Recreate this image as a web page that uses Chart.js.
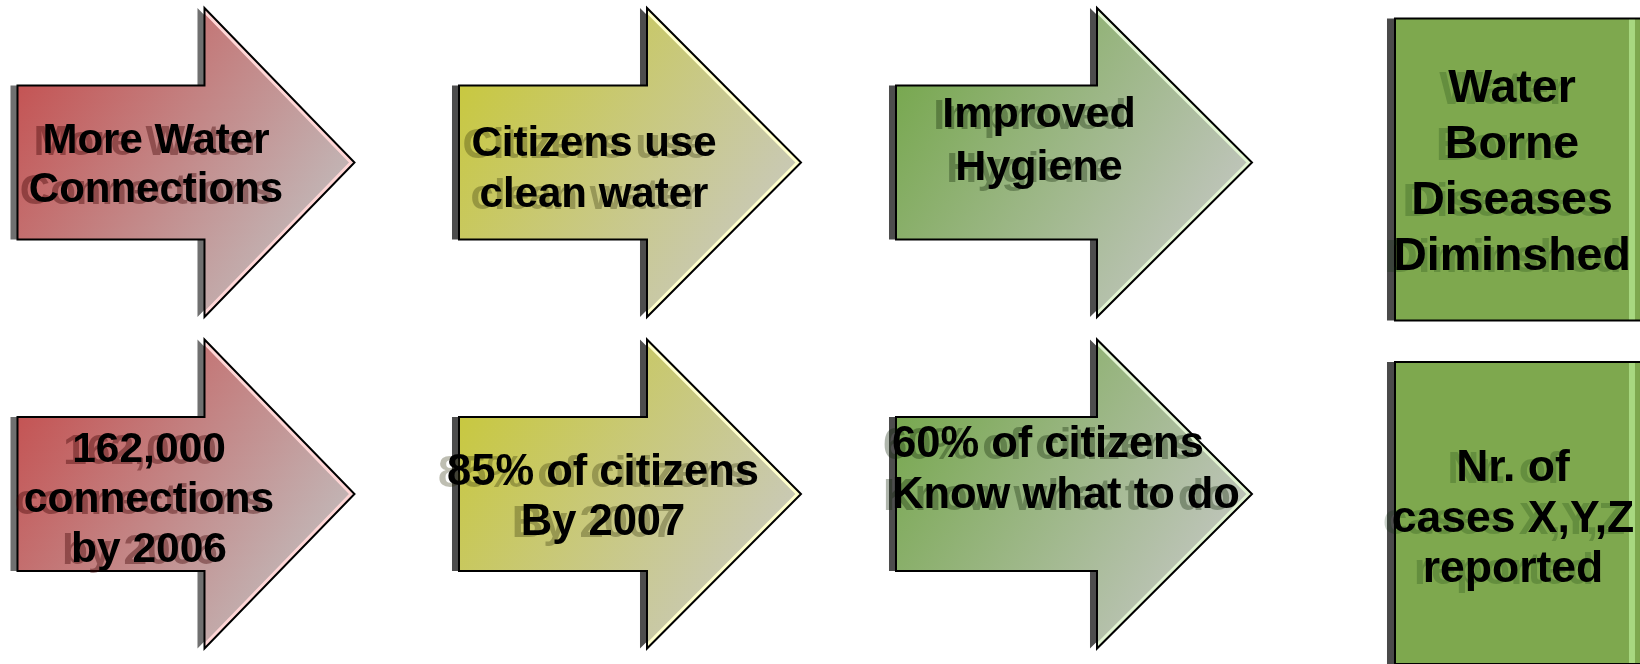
<!DOCTYPE html>
<html>
<head>
<meta charset="utf-8" />
<title>Results chain</title>
<script src="https://cdn.jsdelivr.net/npm/chart.js"></script>
<style>
  html, body { margin: 0; padding: 0; background: #fff; overflow: hidden; }
  #chart { display: block; }
</style>
</head>
<body>
<canvas id="chart" width="1640" height="664"></canvas>
<script>
  // steps of the chain (x) and the two rows (y)
  const steps = ["Output", "Outcome", "Intermediate outcome", "Impact"];
  const rows = ["Result", "Indicator"];

  const resultLabels = [
    ["More Water", "Connections"],
    ["Citizens use", "clean water"],
    ["Improved", "Hygiene"],
    ["Water", "Borne", "Diseases", "Diminshed"],
  ];
  const indicatorLabels = [
    ["162,000", "connections", "by 2006"],
    ["85% of citizens", "By 2007"],
    ["60% of citizens", "Know what to do"],
    ["Nr. of", "cases X,Y,Z", "reported"],
  ];

  // looks, one entry per step
  const stepStyle = [
    { base: "#c45454", end: "#c2bcbc", light: "#ffd6d6", shadow: "#707070", ghost: "rgba(60,0,0,0.38)", width: 337, head: 150 },
    { base: "#c8c840", end: "#c9c9bd", light: "#ffffcc", shadow: "#4d4d4d", ghost: "rgba(40,40,0,0.30)", width: 342, head: 154 },
    { base: "#78a850", end: "#c2c6bf", light: "#e2f4d2", shadow: "#4d4d4d", ghost: "rgba(10,30,0,0.32)", width: 356, head: 155 },
    { base: "#7ea84e", end: "#7ea84e", light: "#a8d880", shadow: "#4a4a4a", ghost: "rgba(0,40,0,0.20)", width: 246, head: 0 },
  ];
  // text placement per row / step (offsets from the shape centre)
  const textLayout = [
    [
      { dx: -30, dy: 0, gap: 49, size: 42 },
      { dx: -36, dy: 4, gap: 51, size: 42 },
      { dx: -35, dy: -24, gap: 53, size: 43 },
      { dx: -6, dy: 0, gap: 56, size: 46.5 },
    ],
    [
      { dx: -37, dy: 3, gap: 50, size: 42.5 },
      { dx: -27, dy: 0, gap: 50, size: 43.5 },
      { dx: -182, dy: -27, gap: 51, size: 43.5, align: "left" },
      { dx: -5, dy: 3, gap: 50.5, size: 44.5 },
    ],
  ];
  const boxShift = [7, 19];
  const FONT = '"Liberation Sans", Arial, sans-serif';

  function drawLines(ctx, lines, x, y, t, ghost) {
    const n = lines.length;
    ctx.font = "bold " + t.size + "px " + FONT;
    ctx.textAlign = t.align || "center";
    ctx.textBaseline = "alphabetic";
    const first = y + t.dy - (n - 1) * t.gap / 2 + 0.358 * t.size;
    ctx.fillStyle = ghost;
    lines.forEach((s, k) => ctx.fillText(s, x + t.dx - 9, first + k * t.gap + 2));
    ctx.fillStyle = "#000";
    lines.forEach((s, k) => ctx.fillText(s, x + t.dx, first + k * t.gap));
  }

  function arrowPath(ctx, L, H, T, cy, bh, hh) {
    ctx.beginPath();
    ctx.moveTo(L, cy - bh);
    ctx.lineTo(H, cy - bh);
    ctx.lineTo(H, cy - hh);
    ctx.lineTo(T, cy);
    ctx.lineTo(H, cy + hh);
    ctx.lineTo(H, cy + bh);
    ctx.lineTo(L, cy + bh);
    ctx.closePath();
  }

  function drawArrow(ctx, cx, cy, st) {
    const bh = 77, hh = 154.5;
    const L = cx - st.width / 2, T = cx + st.width / 2, H = T - st.head;
    // shadow
    arrowPath(ctx, L - 7, H - 7, T - 7, cy, bh, hh);
    ctx.fillStyle = st.shadow;
    ctx.fill();
    // body
    arrowPath(ctx, L, H, T, cy, bh, hh);
    const g = ctx.createLinearGradient(L, cy - bh, T, cy + hh);
    g.addColorStop(0, st.base);
    g.addColorStop(0.85, st.end);
    g.addColorStop(1, st.end);
    ctx.fillStyle = g;
    ctx.fill();
    // light edge on the head
    ctx.save();
    ctx.clip();
    ctx.beginPath();
    ctx.moveTo(H, cy - hh);
    ctx.lineTo(T, cy);
    ctx.lineTo(H, cy + hh);
    ctx.strokeStyle = st.light;
    ctx.lineWidth = 8;
    ctx.stroke();
    ctx.restore();
    arrowPath(ctx, L, H, T, cy, bh, hh);
    ctx.strokeStyle = "#000";
    ctx.lineWidth = 2;
    ctx.lineJoin = "miter";
    ctx.stroke();
  }

  function drawBox(ctx, cx, cy, st) {
    const w = st.width, h = 302;
    const L = cx - w / 2, top = cy - h / 2;
    ctx.fillStyle = st.shadow;
    ctx.fillRect(L - 8, top, 8, h);
    ctx.fillStyle = st.base;
    ctx.fillRect(L, top, w, h);
    ctx.fillStyle = st.light;
    ctx.fillRect(L + w - 12, top, 6, h);
    ctx.strokeStyle = "#000";
    ctx.lineWidth = 2;
    ctx.strokeRect(L, top, w, h);
  }

  const chainShapes = {
    id: "chainShapes",
    afterDatasetsDraw(chart) {
      const ctx = chart.ctx;
      chart.data.datasets.forEach((ds, r) => {
        chart.getDatasetMeta(r).data.forEach((pt, i) => {
          const st = stepStyle[i];
          let cy = pt.y;
          if (st.head) {
            drawArrow(ctx, pt.x, cy, st);
          } else {
            cy += boxShift[r];
            drawBox(ctx, pt.x, cy, st);
          }
          drawLines(ctx, ds.texts[i], pt.x, cy, textLayout[r][i], st.ghost);
        });
      });
    },
  };

  new Chart(document.getElementById("chart"), {
    type: "scatter",
    data: {
      datasets: rows.map((name, r) => ({
        label: name,
        texts: r === 0 ? resultLabels : indicatorLabels,
        data: steps.map((s, i) => ({ x: i, y: r })),
        pointRadius: 0,
      })),
    },
    options: {
      responsive: false,
      animation: false,
      layout: { padding: 0 },
      plugins: { legend: { display: false }, tooltip: { enabled: false } },
      scales: {
        x: { type: "linear", display: false, min: -0.4189, max: 3.2748 },
        y: { type: "linear", display: false, reverse: true, min: -0.4902, max: 1.5128 },
      },
    },
    plugins: [chainShapes],
  });
</script>
</body>
</html>
